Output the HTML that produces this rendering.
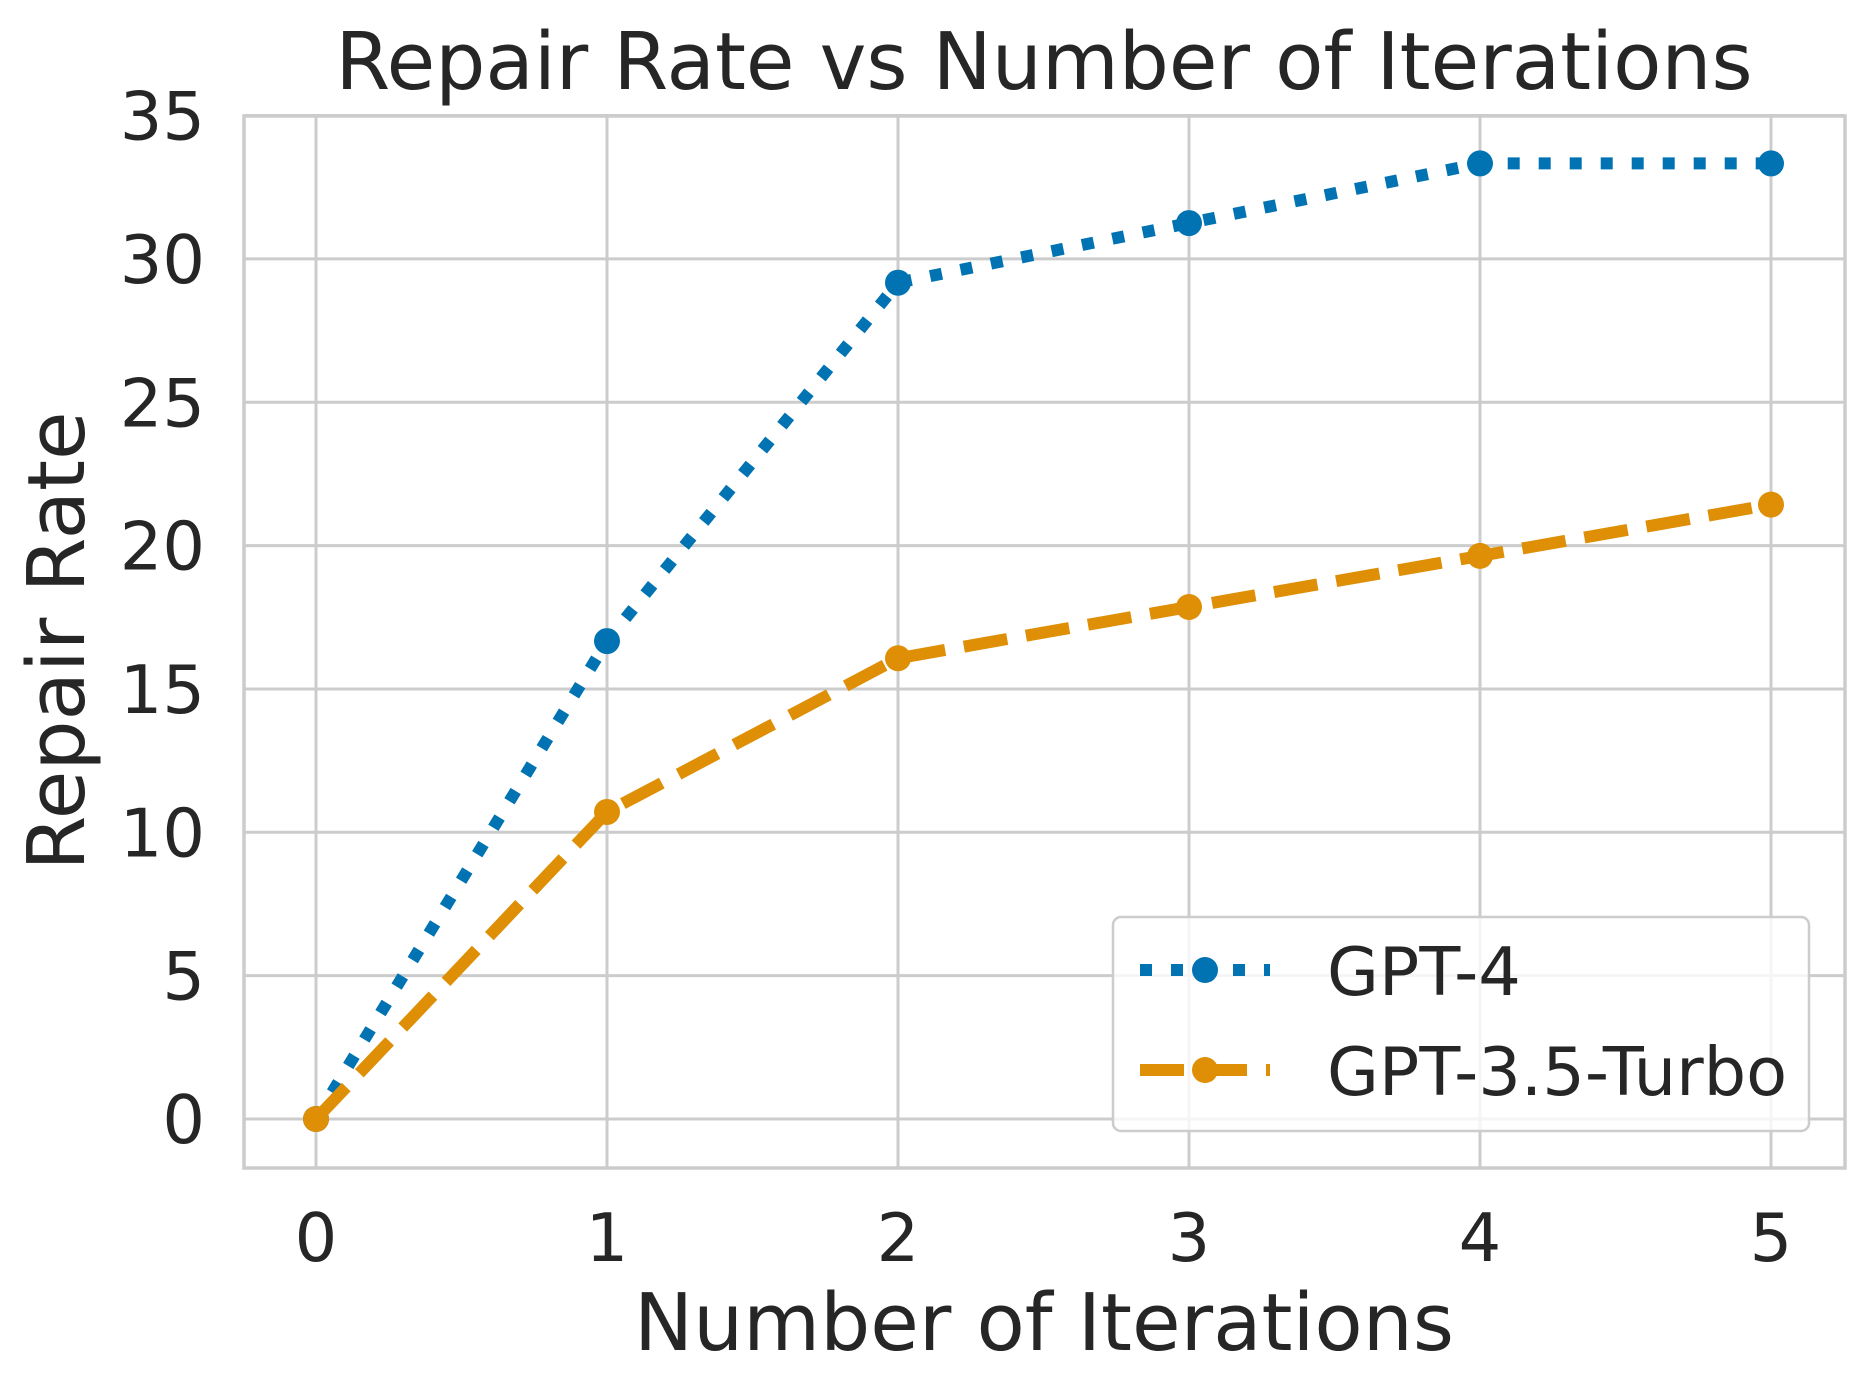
<!DOCTYPE html>
<html><head><meta charset="utf-8"><style>
body{margin:0;background:#fff}
svg{display:block;font-family:"DejaVu Sans","Liberation Sans",sans-serif;fill:#262626}
</style></head><body>
<svg id="chart" width="1872" height="1396" viewBox="0 0 1872 1396" xmlns="http://www.w3.org/2000/svg">
<rect width="1872" height="1396" fill="#fff"/>
<g id="grid"></g>
<rect x="244" y="116" width="1601" height="1052" fill="none" stroke="#cccccc" stroke-width="3.5"/>
<g id="series"></g>
<g id="ticks"></g>
<text x="1044" y="89" font-size="79" text-anchor="middle">Repair Rate vs Number of Iterations</text>
<text x="1044" y="1350" font-size="79" text-anchor="middle">Number of Iterations</text>
<text x="0" y="0" font-size="79" text-anchor="middle" transform="translate(84,641) rotate(-90)">Repair Rate</text>
<g>
<rect x="1113" y="917" width="696" height="214" rx="8" fill="#fff" fill-opacity="0.8" stroke="#cccccc" stroke-width="2.5"/>
<line x1="1140" y1="970" x2="1270" y2="970" stroke="#0173b2" stroke-width="12" stroke-dasharray="12 19"/>
<circle cx="1205" cy="970" r="13" fill="#0173b2"/>
<text x="1327" y="995" font-size="67">GPT-4</text>
<line x1="1140" y1="1070" x2="1270" y2="1070" stroke="#de8f05" stroke-width="12" stroke-dasharray="44 19"/>
<circle cx="1205" cy="1070" r="13" fill="#de8f05"/>
<text x="1327" y="1095" font-size="67">GPT-3.5-Turbo</text>
</g>
</svg>
<script>
const iterations=[0,1,2,3,4,5];
const gpt4Values=[0,16.67,29.17,31.25,33.33,33.33];
const gpt35Values=[0,10.71,16.07,17.86,19.64,21.43];
const yTicks=[0,5,10,15,20,25,30,35];
const xTicks=[0,1,2,3,4,5];
const NS="http://www.w3.org/2000/svg";
const xs=v=>316+v*291;
const ys=v=>1119-v*28.67;
const grid=document.getElementById('grid'),ticks=document.getElementById('ticks'),series=document.getElementById('series');
function mk(tag,attrs,parent){const e=document.createElementNS(NS,tag);for(const k in attrs)e.setAttribute(k,attrs[k]);parent.appendChild(e);return e;}
xTicks.forEach(t=>{
 const l=mk('line',{x1:xs(t),x2:xs(t),y1:116,y2:1168,stroke:'#cccccc','stroke-width':3},grid);
 
 
 const tx=mk('text',{x:xs(t),y:1261,'font-size':67,'text-anchor':'middle'},ticks);
 tx.textContent=t;
 
 
});
yTicks.forEach(t=>{
 const l=mk('line',{x1:244,x2:1845,y1:ys(t),y2:ys(t),stroke:'#cccccc','stroke-width':3},grid);
 
 
 const tx=mk('text',{x:205,y:ys(t)+24,'font-size':67,'text-anchor':'end'},ticks);
 tx.textContent=t;
 
 
});
function drawSeries(vals,color,dash,name){
 const pts=iterations.map((x,i)=>xs(x)+','+ys(vals[i])).join(' ');
 const p=mk('polyline',{points:pts,fill:'none',stroke:color,'stroke-width':12,'stroke-dasharray':dash},series);
 
 
 iterations.forEach((x,i)=>{
  const c=mk('circle',{cx:xs(x),cy:ys(vals[i]),r:13,fill:color},series);
  
  
 });
}
drawSeries(gpt4Values,'#0173b2','12 19','gpt4');
drawSeries(gpt35Values,'#de8f05','44 19','gpt35');
</script>
</body></html>
